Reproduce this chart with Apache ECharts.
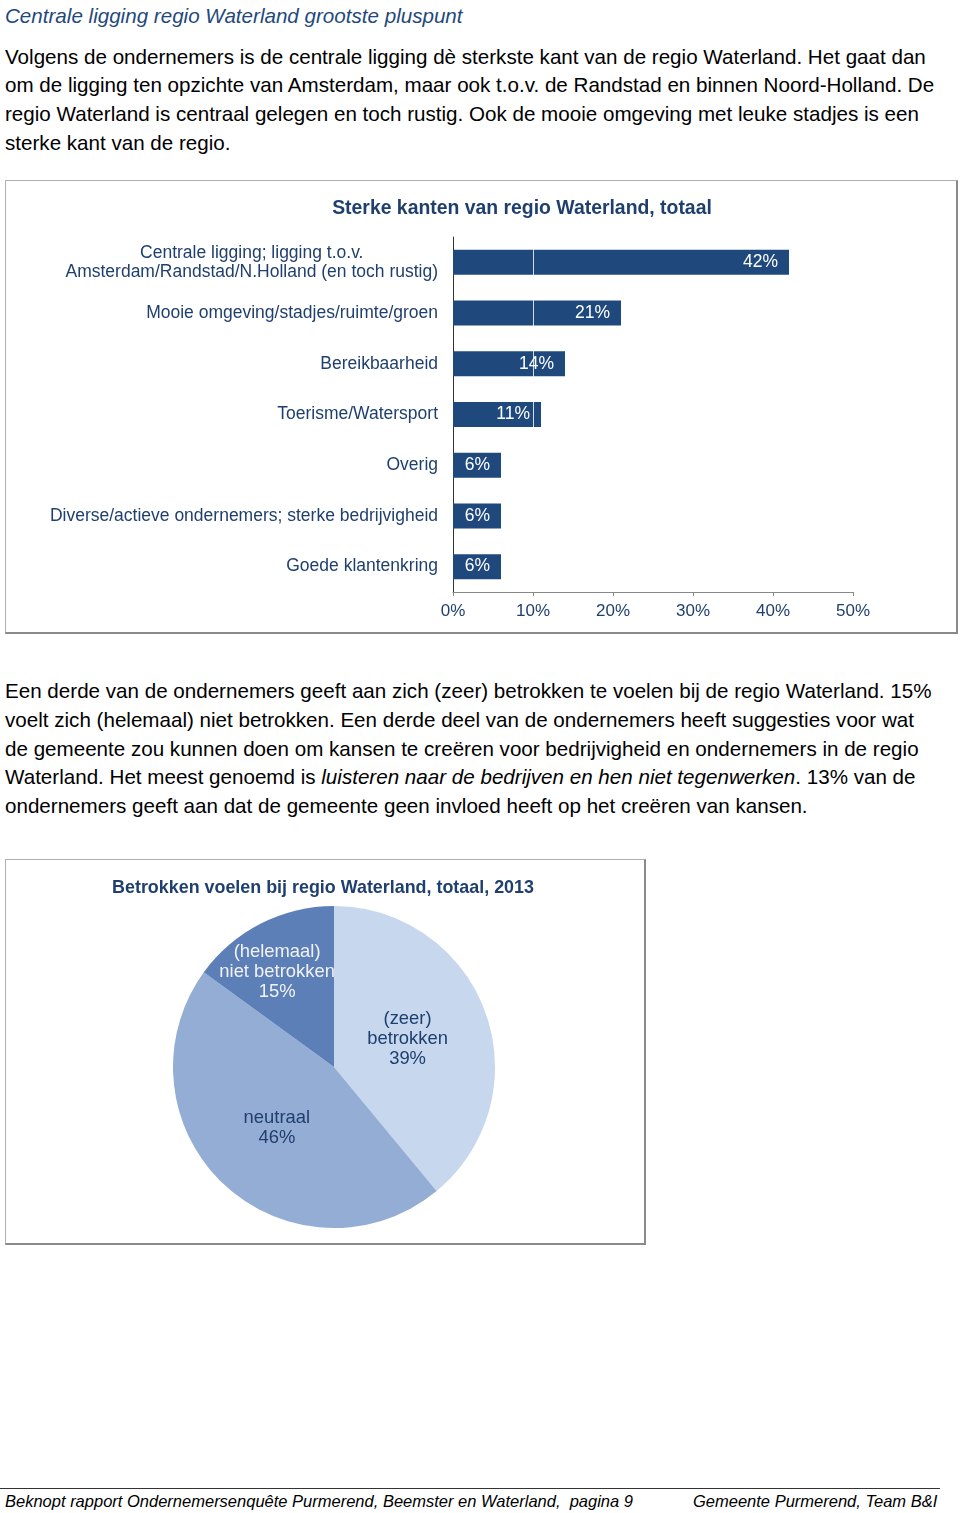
<!DOCTYPE html>
<html>
<head>
<meta charset="utf-8">
<script src="https://cdn.jsdelivr.net/npm/echarts@6/dist/echarts.min.js"></script>
<style>
  html, body { margin:0; padding:0; background:#fff; }
  body { width:960px; height:1513px; position:relative; overflow:hidden; font-family:"Liberation Sans", Arial, sans-serif; }
  .ln { position:absolute; left:5px; white-space:nowrap; font-size:20.6px; line-height:28px; color:#000; }
  .box { position:absolute; box-sizing:border-box; border:1px solid #b0b0b0; border-right:2px solid #8a8a8a; border-bottom:2px solid #8a8a8a; }
  .chart { position:absolute; }
  .foot { position:absolute; top:1492px; font-size:16.5px; font-style:italic; white-space:nowrap; color:#000; }
</style>
</head>
<body>
<div class="ln" style="top:2px;font-style:italic;color:#1f497d;">Centrale ligging regio Waterland grootste pluspunt</div>
<div class="ln" style="top:43px;">Volgens de ondernemers is de centrale ligging dè sterkste kant van de regio Waterland. Het gaat dan</div>
<div class="ln" style="top:71px;">om de ligging ten opzichte van Amsterdam, maar ook t.o.v. de Randstad en binnen Noord-Holland. De</div>
<div class="ln" style="top:100px;">regio Waterland is centraal gelegen en toch rustig. Ook de mooie omgeving met leuke stadjes is een</div>
<div class="ln" style="top:129px;">sterke kant van de regio.</div>

<div class="box" style="left:5px;top:180px;width:953px;height:454px;"></div>
<div id="bar" class="chart" style="left:5px;top:180px;width:953px;height:454px;"></div>

<div class="ln" style="top:677px;">Een derde van de ondernemers geeft aan zich (zeer) betrokken te voelen bij de regio Waterland. 15%</div>
<div class="ln" style="top:706px;">voelt zich (helemaal) niet betrokken. Een derde deel van de ondernemers heeft suggesties voor wat</div>
<div class="ln" style="top:735px;">de gemeente zou kunnen doen om kansen te creëren voor bedrijvigheid en ondernemers in de regio</div>
<div class="ln" style="top:763px;">Waterland. Het meest genoemd is <i>luisteren naar de bedrijven en hen niet tegenwerken</i>. 13% van de</div>
<div class="ln" style="top:792px;">ondernemers geeft aan dat de gemeente geen invloed heeft op het creëren van kansen.</div>

<div class="box" style="left:5px;top:859px;width:641px;height:386px;"></div>
<div id="pie" class="chart" style="left:5px;top:859px;width:641px;height:386px;"></div>

<div style="position:absolute;left:0;top:1488px;width:940px;height:1px;background:#333;"></div>
<div class="foot" style="left:5px;">Beknopt rapport Ondernemersenquête Purmerend, Beemster en Waterland,&nbsp; pagina 9</div>
<div class="foot" style="left:693px;">Gemeente Purmerend, Team B&amp;I</div>

<script>
// ---- data ----
const barTitle = 'Sterke kanten van regio Waterland, totaal';
const barCategories = [
  'Centrale ligging; ligging t.o.v.\nAmsterdam/Randstad/N.Holland (en toch rustig)',
  'Mooie omgeving/stadjes/ruimte/groen',
  'Bereikbaarheid',
  'Toerisme/Watersport',
  'Overig',
  'Diverse/actieve ondernemers; sterke bedrijvigheid',
  'Goede klantenkring'
];
const barValues = [42, 21, 14, 11, 6, 6, 6];
const xTicks = [0, 10, 20, 30, 40, 50];

const pieTitle = 'Betrokken voelen bij regio Waterland, totaal, 2013';
const pieNames = ['(zeer)\nbetrokken', 'neutraal', '(helemaal)\nniet betrokken'];
const pieValues = [39, 46, 15];

const navy = '#1f3f6e';
const barColor = '#1f497d';
const ff = 'Liberation Sans, Arial, sans-serif';

// ---- bar chart ----
const bar = echarts.init(document.getElementById('bar'), null, {renderer:'canvas'});
bar.setOption({
  animation:false,
  title:{ text:barTitle, left:512, top:14, textAlign:'center',
    textStyle:{ color:navy, fontSize:19.4, fontWeight:'bold', fontFamily:ff } },
  grid:{ left:448, top:57, width:400, height:355, containLabel:false },
  xAxis:{ type:'value', min:xTicks[0], max:xTicks[xTicks.length-1], interval:10,
    axisLine:{ show:true, lineStyle:{ color:'#888', width:1 } },
    axisTick:{ show:true, length:4, lineStyle:{ color:'#888' } },
    splitLine:{ show:false },
    axisLabel:{ formatter:'{value}%', color:navy, fontSize:17, margin:11, fontFamily:ff } },
  yAxis:{ type:'category', data:barCategories, inverse:true,
    axisLine:{ show:true, lineStyle:{ color:'#333', width:1 } },
    axisTick:{ show:false },
    axisLabel:{ color:navy, fontSize:17.5, margin:15, lineHeight:19, fontFamily:ff,
      formatter: v => v.indexOf('\n') >= 0 ? v.split('\n').map(s => '{c|' + s + '}').join('\n') : v,
      rich:{ c:{ align:'center', color:navy, fontSize:17.5, lineHeight:19, fontFamily:ff } } } },
  series:[{ type:'bar', data:barValues, barWidth:25,
    itemStyle:{ color:barColor },
    label:{ show:true, position:'insideRight', distance:11, formatter:'{c}%', color:'#fff', fontSize:17.5, fontFamily:ff },
    markLine:{ silent:true, symbol:'none', label:{show:false}, lineStyle:{ color:'#ffffff', width:1, type:'solid', opacity:0.8 },
      data:[{ xAxis:10 }] } }]
});

// ---- pie chart ----
const pie = echarts.init(document.getElementById('pie'), null, {renderer:'canvas'});
pie.setOption({
  animation:false,
  title:{ text:pieTitle, left:313, top:15, textAlign:'center',
    textStyle:{ color:navy, fontSize:17.9, fontWeight:'bold', fontFamily:ff } },
  series:[{ type:'pie', center:[329, 208], radius:161, startAngle:90, clockwise:true,
    itemStyle:{ borderWidth:0 },
    label:{ show:true, position:'inside', fontSize:18.4, lineHeight:20, color:navy, fontFamily:ff,
      formatter: p => p.name + '\n' + p.value + '%' },
    labelLine:{ show:false },
    labelLayout: p => p.dataIndex === 2 ? { dx:-19, dy:-21 } : (p.dataIndex === 0 ? { dx:-5 } : {}),
    data:[
      { name:pieNames[0], value:pieValues[0], itemStyle:{ color:'#c6d7ee' } },
      { name:pieNames[1], value:pieValues[1], itemStyle:{ color:'#94add5' } },
      { name:pieNames[2], value:pieValues[2], itemStyle:{ color:'#5c7fb7' }, label:{ color:'#f2f2f2' } }
    ] }]
});
</script>
</body>
</html>
